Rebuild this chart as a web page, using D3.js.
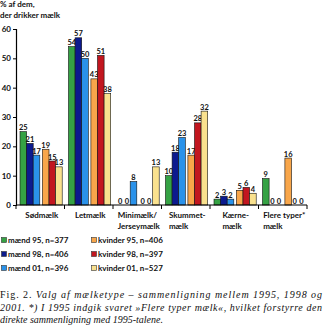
<!DOCTYPE html>
<html><head><meta charset="utf-8">
<script src="https://cdn.jsdelivr.net/npm/d3@7"></script>
<style>body{margin:0;background:#fff}svg{display:block}</style>
</head><body>
<svg id="c" width="323" height="333"></svg>
<script>
const categories = [["Sødmælk"],["Letmælk"],["Minimælk/","Jerseymælk"],["Skummet-","mælk"],["Kærne-","mælk"],["Flere typer*","mælk"]];
const seriesNames = ["mænd 95, n=377","mænd 98, n=406","mænd 01, n=396","kvinder 95, n=406","kvinder 98, n=397","kvinder 01, n=527"];
const colors = ["#35a244","#0c1a8e","#2a92ea","#f8a64a","#c2161f","#f9e18e"];
const maend95 = [25,54,0,10,2,9];
const maend98 = [21,57,0,18,3,0];
const maend01 = [17,50,8,23,2,0];
const kvinder95 = [19,43,0,17,5,16];
const kvinder98 = [15,51,0,28,6,0];
const kvinder01 = [13,38,13,32,4,0];
const values = [maend95,maend98,maend01,kvinder95,kvinder98,kvinder01];
const yTicks = [0,10,20,30,40,50,60];
const titleLines = ["% af dem,","der drikker mælk"];
const captionLines = [
  [{t:"Fig. 2. ",i:false},{t:"Valg af mælketype – sammenligning mellem 1995, 1998 og",i:true}],
  [{t:"2001. *) I 1995 indgik svaret »Flere typer mælk«, hvilket forstyrre den",i:true}],
  [{t:"direkte sammenligning med 1995-talene.",i:true}]
];

(function(){
const svg = d3.select("#c");
const sans = "Lato, 'Open Sans', sans-serif";
const mL = 16, mR = 307, mT = 29, mB = 205;
const y = d3.scaleLinear().domain([0,60]).range([mB, mT]);
const x = d3.scaleBand().domain(d3.range(categories.length)).range([mL, mR]);
const barW = 6.6, gap = 2.6, off = 4;
const bx = (c,s) => x(c) + off + s*barW + (s>=3 ? gap : 0);

svg.append("g").selectAll("text").data(titleLines).join("text")
  .attr("x",0).attr("y",(d,i)=>7+i*10.5)
  .attr("font-family",sans).attr("font-size",8).attr("font-weight",700).attr("fill","#111")
  .text(d=>d);

const ya = svg.append("g").attr("transform",`translate(${mL},0)`)
  .call(d3.axisLeft(y).tickValues(yTicks).tickSize(3).tickPadding(2));
ya.select(".domain").attr("stroke","#000").attr("stroke-width",1.2);
ya.selectAll("text").attr("font-family",sans).attr("font-size",8).attr("font-weight",700).attr("fill","#111");

const g = svg.append("g");
values.forEach((arr,s)=>{
  g.append("g").selectAll("rect").data(arr).join("rect")
    .attr("x",(d,c)=>bx(c,s)).attr("width",barW)
    .attr("y",d=>y(d)).attr("height",d=>mB-y(d))
    .attr("fill",colors[s]).attr("stroke","#111").attr("stroke-width",0.6);
  g.append("g").selectAll("text").data(arr).join("text")
    .attr("x",(d,c)=>bx(c,s)+barW/2).attr("y",d=>y(d)-1.5)
    .attr("text-anchor","middle")
    .attr("font-family",sans).attr("font-size",7.5).attr("font-weight",700).attr("fill","#111")
    .text(d=>d);
});

svg.append("line").attr("x1",mL).attr("x2",mR).attr("y1",mB).attr("y2",mB)
  .attr("stroke","#000").attr("stroke-width",1.2);
svg.append("g").selectAll("line").data(d3.range(categories.length+1)).join("line")
  .attr("x1",i=>i<categories.length? x(i):mR).attr("x2",i=>i<categories.length? x(i):mR)
  .attr("y1",mB).attr("y2",mB+4).attr("stroke","#000").attr("stroke-width",1);

categories.forEach((lines,c)=>{
  const tg = svg.append("g");
  const ts = tg.selectAll("text").data(lines).join("text")
    .attr("y",(d,i)=>218+i*11)
    .attr("font-family",sans).attr("font-size",8).attr("font-weight",700).attr("fill","#111")
    .text(d=>d);
  let w = 0; ts.each(function(){w=Math.max(w,this.getComputedTextLength());});
  ts.attr("x", x(c)+x.bandwidth()/2 - w/2 + 1.5);
});

const lg = svg.append("g");
seriesNames.forEach((n,s)=>{
  const col = Math.floor(s/3), row = s%3;
  const lx = col===0 ? 1 : 91, ly = 243 + row*14;
  lg.append("rect").attr("x",lx+0.5).attr("y",ly-5.5).attr("width",5).attr("height",5)
    .attr("fill",colors[s]).attr("stroke","#333").attr("stroke-width",0.6);
  lg.append("text").attr("x",lx+7).attr("y",ly)
    .attr("font-family",sans).attr("font-size",8).attr("font-weight",700).attr("fill","#111").text(n);
});

const serif = "'Liberation Serif', 'DejaVu Serif', serif";
captionLines.forEach((parts,i)=>{
  const t = svg.append("text").attr("x",0).attr("y",298+i*12.5)
    .attr("font-family",serif).attr("font-size",10).attr("fill","#111");
  parts.forEach(p=>t.append("tspan").attr("font-style",p.i?"italic":"normal").text(p.t));
  if(i<2){ t.attr("textLength",322).attr("lengthAdjust","spacing"); }
});
})();
</script>
</body></html>
